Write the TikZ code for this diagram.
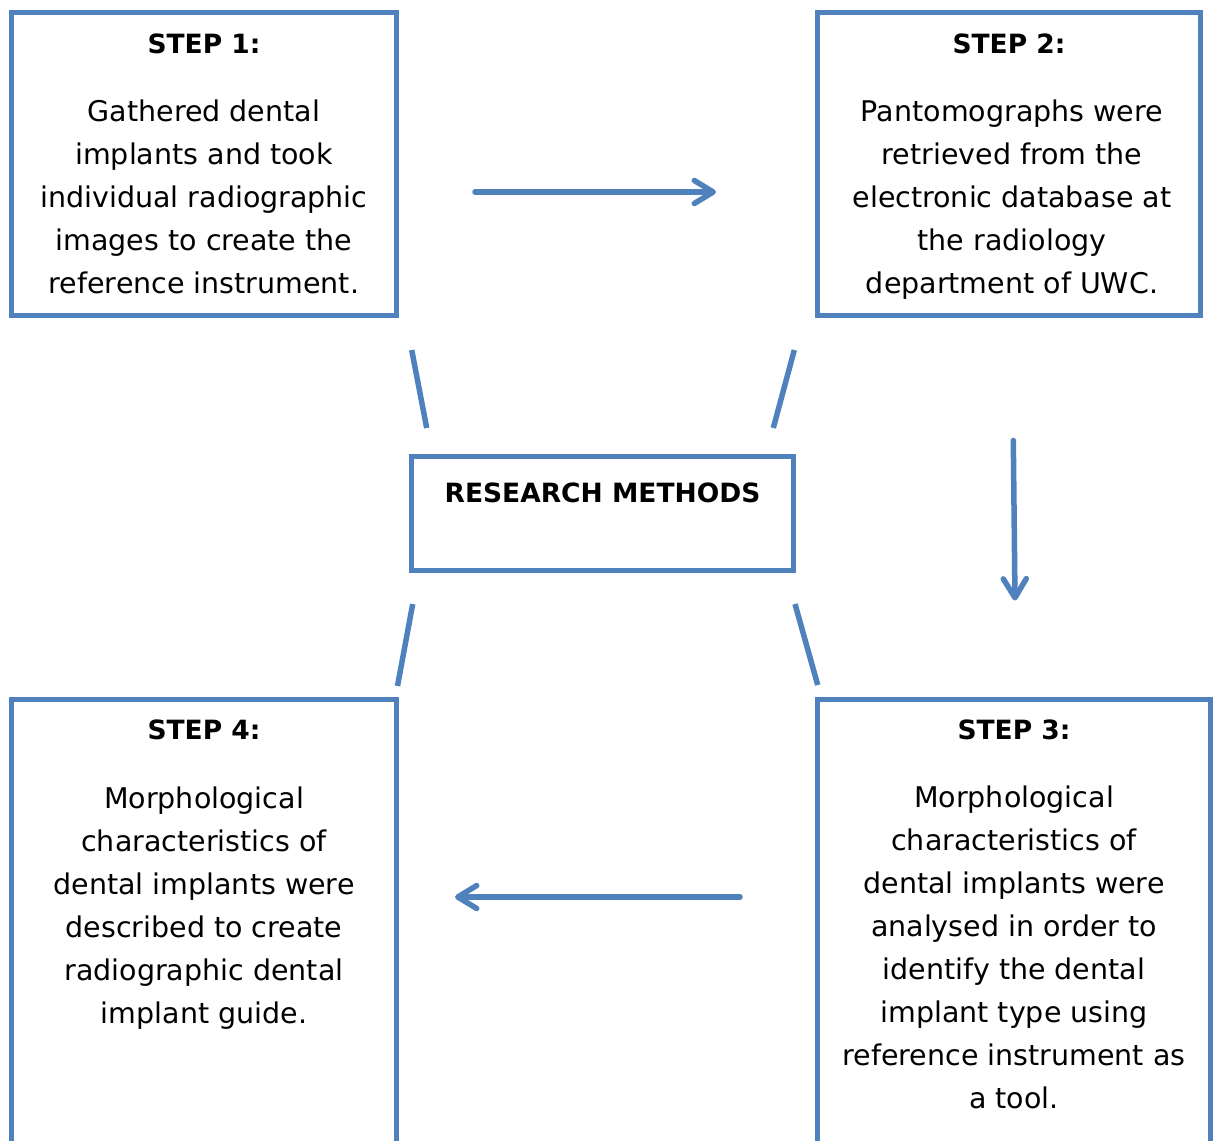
\documentclass[tikz,border=0pt]{standalone}
\usepackage{fontspec}
\setmainfont{DejaVu Sans}
\usepackage{xcolor}
\usepackage{tikz}
\usetikzlibrary{arrows.meta, positioning}
\definecolor{boxblue}{HTML}{4F81BD}

\begin{document}
\begin{tikzpicture}[x=1pt, y=-1pt,
  stepbox/.style={rectangle, draw=boxblue, line width=4.8pt, inner sep=0pt},
  steptitle/.style={anchor=base, font=\bfseries\fontsize{26.5}{31}\selectfont, inner sep=0pt},
  stepbody/.style={anchor=base, align=center, font=\fontsize{28.5}{43}\selectfont, inner sep=0pt},
  link/.style={draw=boxblue, line width=5.5pt},
  arrow/.style={link, line cap=round, -{Straight Barb[length=19pt, width=23pt, round]}}]
\clip (0,0) rectangle (1214,1140);
% boxes
\node[stepbox, minimum width=385pt, minimum height=303pt] (s1) at (204,164) {};
\node[stepbox, minimum width=383pt, minimum height=303pt] (s2) at (1009,164) {};
\node[stepbox, minimum width=382pt, minimum height=114pt] (rm) at (602.5,513.5) {};
\node[stepbox, minimum width=393pt, minimum height=500pt] (s3) at (1014,949.5) {};
\node[stepbox, minimum width=385pt, minimum height=500pt] (s4) at (204,949.5) {};
% texts (body nodes sit on the baseline of their last line)
\node[steptitle] (s1h) at (204,53) {STEP 1:};
\node[stepbody] (s1b) at (204,293) {Gathered dental\\implants and took\\individual radiographic\\images to create the\\reference instrument.};
\node[steptitle] (s2h) at (1009,53) {STEP 2:};
\node[stepbody] (s2b) at (1012,293) {Pantomographs were\\retrieved from the\\electronic database at\\the radiology\\department of UWC.};
\node[steptitle] (rmh) at (602.5,502) {RESEARCH METHODS};
\node[steptitle] (s3h) at (1014,739) {STEP 3:};
\node[stepbody] (s3b) at (1014,1108) {Morphological\\characteristics of\\dental implants were\\analysed in order to\\identify the dental\\implant type using\\reference instrument as\\a tool.};
\node[steptitle] (s4h) at (204,739) {STEP 4:};
\node[stepbody] (s4b) at (204,1023) {Morphological\\characteristics of\\dental implants were\\described to create\\radiographic dental\\implant guide.};
% free line ends
\coordinate (ula) at (411.7,350); \coordinate (ulb) at (426.7,428);
\coordinate (ura) at (794.3,350); \coordinate (urb) at (773.3,428);
\coordinate (lla) at (412.7,604); \coordinate (llb) at (397.5,686);
\coordinate (lra) at (795,604);   \coordinate (lrb) at (817.7,685);
\coordinate (a1a) at (475,192);   \coordinate (a1b) at (716,192);
\coordinate (a2a) at (1013.3,440.5); \coordinate (a2b) at (1015,600.5);
\coordinate (a3a) at (740,897);   \coordinate (a3b) at (455,897);
\draw[link] (ula) -- (ulb); \draw[link] (ura) -- (urb);
\draw[link] (lla) -- (llb); \draw[link] (lra) -- (lrb);
\draw[arrow] (a1a) -- (a1b);
\draw[arrow] (a2a) -- (a2b);
\draw[arrow] (a3a) -- (a3b);
\end{tikzpicture}
\end{document}
